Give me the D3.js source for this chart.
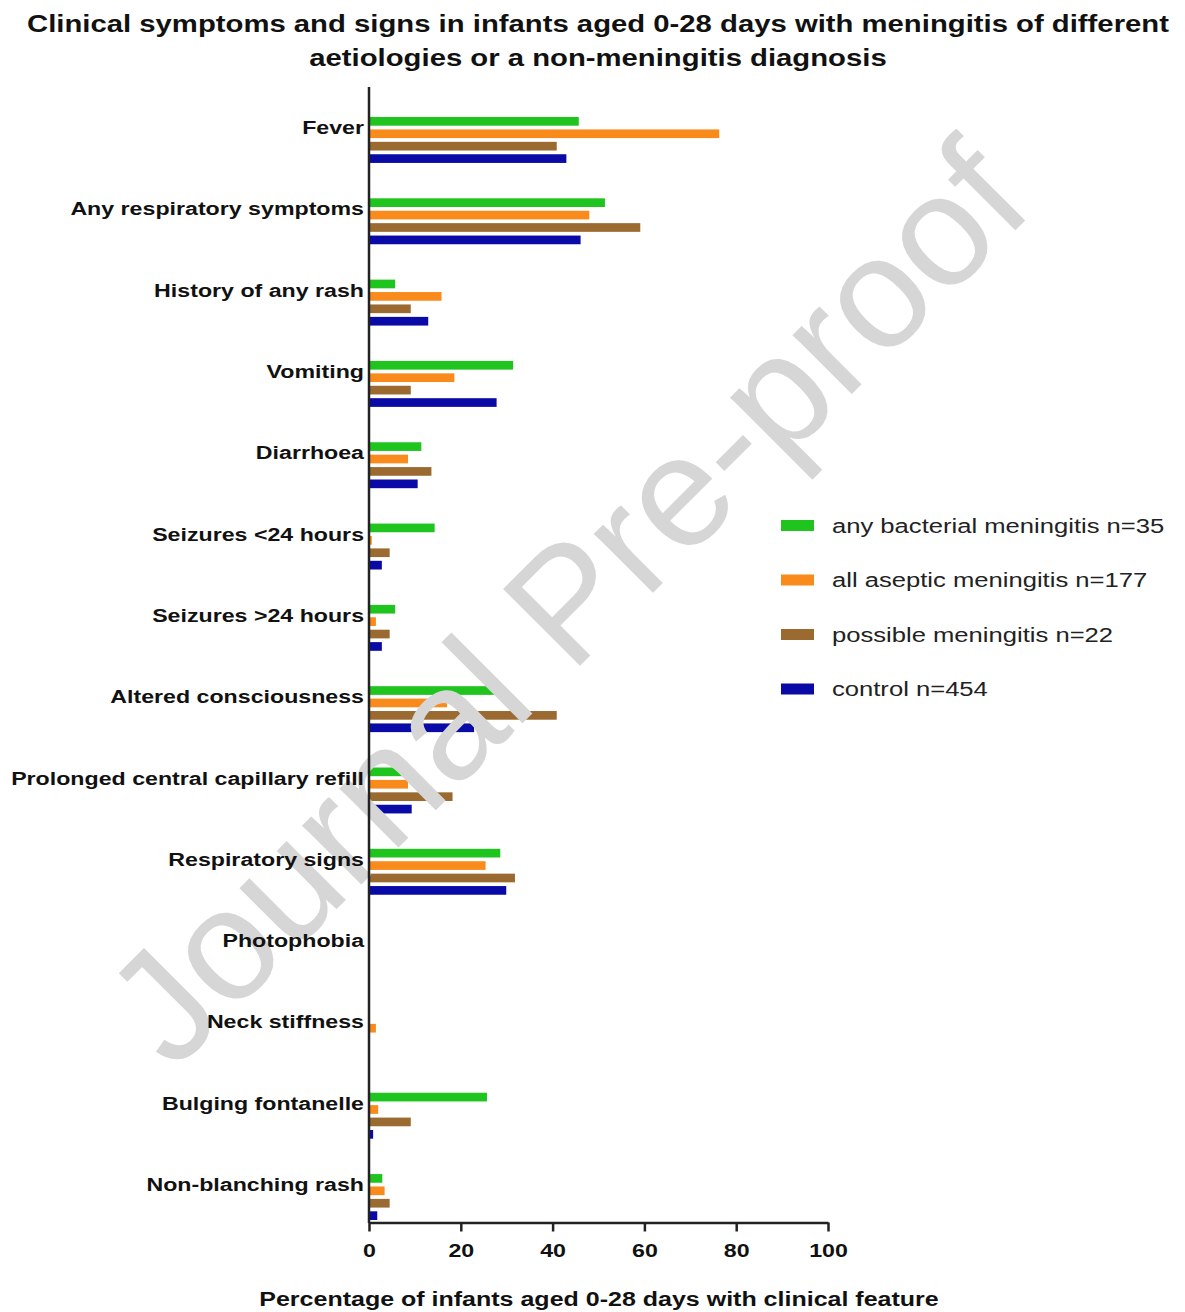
<!DOCTYPE html>
<html>
<head>
<meta charset="utf-8">
<script src="https://cdn.jsdelivr.net/npm/d3@7"></script>
<style>
  body { margin: 0; background: #fff; }
  svg { display: block; font-family: 'Liberation Sans', Arial, sans-serif; }
</style>
</head>
<body>
<svg width="1185" height="1312"></svg>
<script>
// categories (top to bottom) and the percentage of infants in each group
var categories = ['Fever', 'Any respiratory symptoms', 'History of any rash', 'Vomiting', 'Diarrhoea',
  'Seizures <24 hours', 'Seizures >24 hours', 'Altered consciousness', 'Prolonged central capillary refill',
  'Respiratory signs', 'Photophobia', 'Neck stiffness', 'Bulging fontanelle', 'Non-blanching rash'];

var seriesNames = ['any bacterial meningitis n=35', 'all aseptic meningitis n=177',
  'possible meningitis n=22', 'control n=454'];

var bacterial = [45.7, 51.4, 5.7, 31.4, 11.4, 14.3, 5.7, 28.6, 8.6, 28.6, 0, 0, 25.7, 2.9];
var aseptic   = [76.3, 48.0, 15.8, 18.6, 8.5, 0.6, 1.5, 17.0, 8.5, 25.4, 0, 1.5, 2.0, 3.4];
var possible  = [40.9, 59.1, 9.1, 9.1, 13.6, 4.5, 4.5, 40.9, 18.2, 31.8, 0, 0, 9.1, 4.5];
var control   = [43.0, 46.1, 12.9, 27.8, 10.6, 2.8, 2.8, 22.9, 9.3, 29.9, 0, 0, 0.9, 1.8];

var xTicks = [0, 20, 40, 60, 80, 100];

var colors = ['#1fc41f', '#f98a1c', '#9a6a30', '#0a0aa6'];
var seriesValues = [bacterial, aseptic, possible, control];

// the source picture is stretched sideways, so widen the glyphs around their anchor
var STRETCH = 1.22;
function stretch(sel, k) {
  k = k || STRETCH;
  sel.each(function () {
    var x0 = +d3.select(this).attr('x') || 0;
    d3.select(this).attr('transform', 'translate(' + (x0 * (1 - k)) + ',0) scale(' + k + ',1)');
  });
}

var svg = d3.select('svg');
svg.append('rect').attr('width', 1185).attr('height', 1312).attr('fill', '#fff');

// title
var title = svg.append('g').attr('font-weight', 'bold').attr('font-size', 24).attr('fill', '#111');
title.append('text').attr('x', 598).attr('y', 32).attr('text-anchor', 'middle')
  .text('Clinical symptoms and signs in infants aged 0-28 days with meningitis of different');
title.append('text').attr('x', 598).attr('y', 66).attr('text-anchor', 'middle')
  .text('aetiologies or a non-meningitis diagnosis');
stretch(title.selectAll('text'));

// scales
var x = d3.scaleLinear().domain([0, 100]).range([369, 828]);
var y0 = d3.scaleBand().domain(categories).range([117, 1220]).paddingInner(0.435).paddingOuter(0);
var y1 = d3.scaleBand().domain(d3.range(seriesNames.length)).range([0, y0.bandwidth()]).paddingInner(0.3);

// bars
var rows = categories.map(function (c, i) {
  return { cat: c, vals: seriesValues.map(function (s) { return s[i]; }) };
});

var groups = svg.append('g').selectAll('g')
  .data(rows)
  .enter()
  .append('g')
  .attr('transform', function (d) { return 'translate(0,' + y0(d.cat) + ')'; });

groups.selectAll('rect')
  .data(function (d) { return d.vals; })
  .enter()
  .append('rect')
  .attr('x', x(0))
  .attr('y', function (d, i) { return y1(i); })
  .attr('width', function (d) { return x(d) - x(0); })
  .attr('height', y1.bandwidth())
  .attr('fill', function (d, i) { return colors[i]; });

// watermark
svg.append('text')
  .attr('transform', 'translate(566,602) rotate(-45)')
  .attr('text-anchor', 'middle')
  .attr('dominant-baseline', 'central')
  .attr('font-size', 158)
  .attr('fill', '#d6d6d6')
  .text('Journal Pre-proof');

// y axis
svg.append('line')
  .attr('x1', x(0)).attr('x2', x(0))
  .attr('y1', 87).attr('y2', 1223)
  .attr('stroke', '#222').attr('stroke-width', 2.5);

var yAxis = svg.append('g')
  .attr('transform', 'translate(' + x(0) + ',0)')
  .call(d3.axisLeft(y0).tickSize(0).tickPadding(5));
yAxis.select('.domain').remove();
yAxis.selectAll('text')
  .attr('font-size', 19)
  .attr('font-weight', 'bold')
  .attr('fill', '#111')
  .attr('font-family', "'Liberation Sans', Arial, sans-serif")
  .attr('dy', '0.32em')
  .attr('y', -12);
stretch(yAxis.selectAll('text'));

// x axis
var xAxis = svg.append('g')
  .attr('transform', 'translate(0,1222.5)')
  .call(d3.axisBottom(x).tickValues(xTicks).tickSize(9).tickSizeOuter(0).tickPadding(12));
xAxis.select('.domain').attr('stroke', '#222').attr('stroke-width', 2.5);
xAxis.selectAll('.tick line').attr('stroke', '#222').attr('stroke-width', 2.5);
xAxis.selectAll('text')
  .attr('font-size', 19)
  .attr('font-weight', 'bold')
  .attr('fill', '#111')
  .attr('font-family', "'Liberation Sans', Arial, sans-serif");
stretch(xAxis.selectAll('text'));

svg.append('text')
  .attr('x', 599).attr('y', 1306)
  .attr('text-anchor', 'middle')
  .attr('font-size', 20.5)
  .attr('font-weight', 'bold')
  .attr('fill', '#111')
  .text('Percentage of infants aged 0-28 days with clinical feature')
  .call(stretch);

// legend
var legend = svg.append('g').selectAll('g')
  .data(seriesNames)
  .enter()
  .append('g')
  .attr('transform', function (d, i) { return 'translate(781,' + (520 + i * 54.5) + ')'; });

legend.append('rect')
  .attr('width', 33).attr('height', 11)
  .attr('fill', function (d, i) { return colors[i]; });

legend.append('text')
  .attr('x', 51).attr('y', 5.5)
  .attr('dy', '0.35em')
  .attr('font-size', 21)
  .attr('fill', '#222')
  .text(function (d) { return d; });
stretch(legend.selectAll('text'));
</script>
</body>
</html>
